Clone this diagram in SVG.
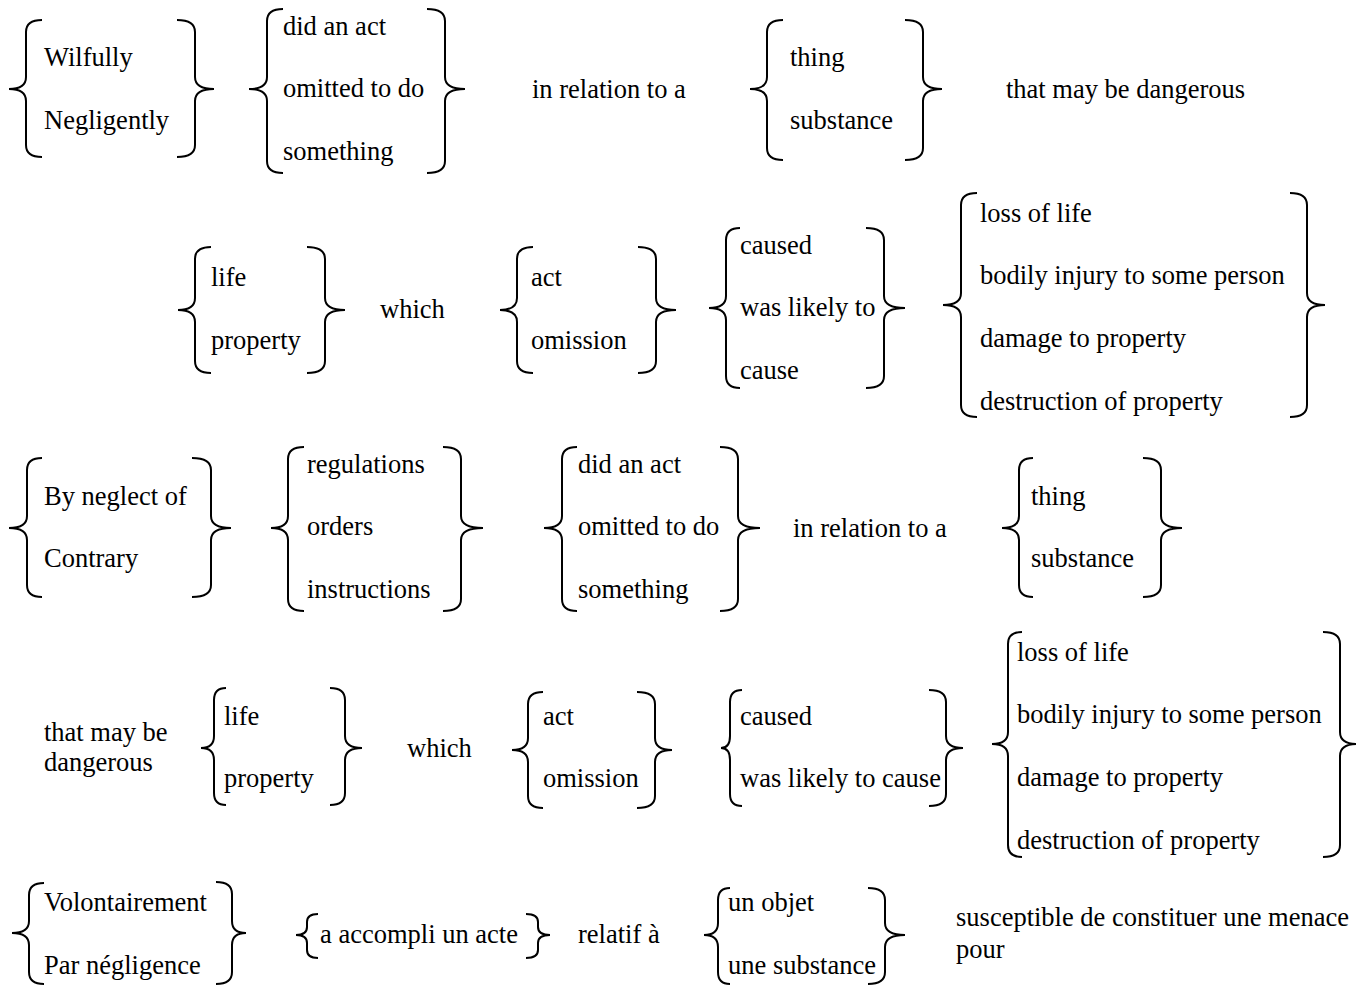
<svg xmlns="http://www.w3.org/2000/svg" width="1356" height="985" viewBox="0 0 1356 985">
<style>
text{font-family:"Liberation Serif","Times New Roman",serif;font-size:26.5px;fill:#000}
.br{fill:none;stroke:#000;stroke-width:2}
</style>
<rect width="1356" height="985" fill="#fff"/>
<g id="connectors">
<!-- Row 1 -->
<path class="br" d="M42 20 Q26 20 26 32 L26 77 Q26 89 9 89 Q26 89 26 101 L26 145 Q26 157 42 157"/>
<path class="br" d="M177 20 Q195 20 195 32 L195 77 Q195 89 214 89 Q195 89 195 101 L195 145 Q195 157 177 157"/>
<path class="br" d="M283 9 Q267 9 267 21 L267 77 Q267 89 249 89 Q267 89 267 101 L267 161 Q267 173 283 173"/>
<path class="br" d="M427 9 Q445 9 445 21 L445 77 Q445 89 465 89 Q445 89 445 101 L445 161 Q445 173 427 173"/>
<path class="br" d="M783 20 Q767 20 767 32 L767 77 Q767 89 750 89 Q767 89 767 101 L767 148 Q767 160 783 160"/>
<path class="br" d="M905 20 Q923 20 923 32 L923 77 Q923 89 942 89 Q923 89 923 101 L923 148 Q923 160 905 160"/>
<!-- Row 2 -->
<path class="br" d="M211 247 Q195 247 195 259 L195 298 Q195 310 178 310 Q195 310 195 322 L195 361 Q195 373 211 373"/>
<path class="br" d="M307 247 Q325 247 325 259 L325 298 Q325 310 345 310 Q325 310 325 322 L325 361 Q325 373 307 373"/>
<path class="br" d="M533 247 Q517 247 517 259 L517 298 Q517 310 500 310 Q517 310 517 322 L517 361 Q517 373 533 373"/>
<path class="br" d="M638 247 Q656 247 656 259 L656 298 Q656 310 676 310 Q656 310 656 322 L656 361 Q656 373 638 373"/>
<path class="br" d="M740 228 Q726 228 726 240 L726 296 Q726 308 709 308 Q726 308 726 320 L726 376 Q726 388 740 388"/>
<path class="br" d="M866 228 Q884 228 884 240 L884 296 Q884 308 905 308 Q884 308 884 320 L884 376 Q884 388 866 388"/>
<path class="br" d="M977 193 Q961 193 961 205 L961 293 Q961 305 943 305 Q961 305 961 317 L961 405 Q961 417 977 417"/>
<path class="br" d="M1290 193 Q1307 193 1307 205 L1307 293 Q1307 305 1325 305 Q1307 305 1307 317 L1307 405 Q1307 417 1290 417"/>
<!-- Row 3 -->
<path class="br" d="M42 458 Q27 458 27 470 L27 516 Q27 528 9 528 Q27 528 27 540 L27 585 Q27 597 42 597"/>
<path class="br" d="M192 458 Q211 458 211 470 L211 516 Q211 528 231 528 Q211 528 211 540 L211 585 Q211 597 192 597"/>
<path class="br" d="M304 447 Q288 447 288 459 L288 516 Q288 528 271 528 Q288 528 288 540 L288 599 Q288 611 304 611"/>
<path class="br" d="M443 447 Q461 447 461 459 L461 516 Q461 528 483 528 Q461 528 461 540 L461 599 Q461 611 443 611"/>
<path class="br" d="M577 447 Q562 447 562 459 L562 516 Q562 528 544 528 Q562 528 562 540 L562 599 Q562 611 577 611"/>
<path class="br" d="M720 447 Q738 447 738 459 L738 516 Q738 528 760 528 Q738 528 738 540 L738 599 Q738 611 720 611"/>
<path class="br" d="M1033 458 Q1019 458 1019 470 L1019 516 Q1019 528 1002 528 Q1019 528 1019 540 L1019 585 Q1019 597 1033 597"/>
<path class="br" d="M1143 458 Q1161 458 1161 470 L1161 516 Q1161 528 1182 528 Q1161 528 1161 540 L1161 585 Q1161 597 1143 597"/>
<!-- Row 4 -->
<path class="br" d="M226 688 Q214 688 214 700 L214 736 Q214 748 201 748 Q214 748 214 760 L214 793 Q214 805 226 805"/>
<path class="br" d="M330 688 Q345 688 345 700 L345 736 Q345 748 362 748 Q345 748 345 760 L345 793 Q345 805 330 805"/>
<path class="br" d="M543 692 Q528 692 528 704 L528 738 Q528 750 512 750 Q528 750 528 762 L528 796 Q528 808 543 808"/>
<path class="br" d="M637 692 Q655 692 655 704 L655 738 Q655 750 672 750 Q655 750 655 762 L655 796 Q655 808 637 808"/>
<path class="br" d="M742 690 Q730 690 730 702 L730 736 Q730 748 721 748 Q730 748 730 760 L730 794 Q730 806 742 806"/>
<path class="br" d="M929 690 Q946 690 946 702 L946 736 Q946 748 963 748 Q946 748 946 760 L946 794 Q946 806 929 806"/>
<path class="br" d="M1022 632 Q1008 632 1008 644 L1008 732 Q1008 744 992 744 Q1008 744 1008 756 L1008 845 Q1008 857 1022 857"/>
<path class="br" d="M1323 632 Q1340 632 1340 644 L1340 732 Q1340 744 1357 744 Q1340 744 1340 756 L1340 845 Q1340 857 1323 857"/>
<!-- Row 5 -->
<path class="br" d="M44 883 Q29 883 29 895 L29 921 Q29 933 12 933 Q29 933 29 945 L29 972 Q29 984 44 984"/>
<path class="br" d="M216 882 Q232 882 232 894 L232 921 Q232 933 246 933 Q232 933 232 945 L232 972 Q232 984 216 984"/>
<path class="br" d="M318 914 Q307 914 307 922 L307 927 Q307 935 296 935 Q307 935 307 943 L307 950 Q307 958 318 958"/>
<path class="br" d="M526 914 Q538 914 538 922 L538 927 Q538 935 550 935 Q538 935 538 943 L538 950 Q538 958 526 958"/>
<path class="br" d="M730 888 Q718 888 718 900 L718 923 Q718 935 704 935 Q718 935 718 947 L718 972 Q718 984 730 984"/>
<path class="br" d="M868 888 Q885 888 885 900 L885 923 Q885 935 905 935 Q885 935 885 947 L885 972 Q885 984 868 984"/>
</g>
<g id="row1">
<g id="n-wilfully"><text x="44" y="66">Wilfully</text><text x="44" y="129">Negligently</text></g>
<g id="n-act1"><text x="283" y="35">did an act</text><text x="283" y="97">omitted to do</text><text x="283" y="160">something</text></g>
<g id="n-rel1"><text x="532" y="98">in relation to a</text></g>
<g id="n-thing1"><text x="790" y="66">thing</text><text x="790" y="129">substance</text></g>
<g id="n-danger1"><text x="1006" y="98">that may be dangerous</text></g>
</g>
<g id="row2">
<g id="n-life1"><text x="211" y="286">life</text><text x="211" y="349">property</text></g>
<g id="n-which1"><text x="380" y="318">which</text></g>
<g id="n-actom1"><text x="531" y="286">act</text><text x="531" y="349">omission</text></g>
<g id="n-caused1"><text x="740" y="254">caused</text><text x="740" y="316">was likely to</text><text x="740" y="379">cause</text></g>
<g id="n-loss1"><text x="980" y="222">loss of life</text><text x="980" y="284">bodily injury to some person</text><text x="980" y="347">damage to property</text><text x="980" y="410">destruction of property</text></g>
</g>
<g id="row3">
<g id="n-neglect"><text x="44" y="505">By neglect of</text><text x="44" y="567">Contrary</text></g>
<g id="n-regs"><text x="307" y="473">regulations</text><text x="307" y="535">orders</text><text x="307" y="598">instructions</text></g>
<g id="n-act2"><text x="578" y="473">did an act</text><text x="578" y="535">omitted to do</text><text x="578" y="598">something</text></g>
<g id="n-rel2"><text x="793" y="537">in relation to a</text></g>
<g id="n-thing2"><text x="1031" y="505">thing</text><text x="1031" y="567">substance</text></g>
</g>
<g id="row4">
<g id="n-danger2"><text x="44" y="741">that may be</text><text x="44" y="771">dangerous</text></g>
<g id="n-life2"><text x="224" y="725">life</text><text x="224" y="787">property</text></g>
<g id="n-which2"><text x="407" y="757">which</text></g>
<g id="n-actom2"><text x="543" y="725">act</text><text x="543" y="787">omission</text></g>
<g id="n-caused2"><text x="740" y="725">caused</text><text x="740" y="787">was likely to cause</text></g>
<g id="n-loss2"><text x="1017" y="661">loss of life</text><text x="1017" y="723">bodily injury to some person</text><text x="1017" y="786">damage to property</text><text x="1017" y="849">destruction of property</text></g>
</g>
<g id="row5">
<g id="n-volont"><text x="44" y="911">Volontairement</text><text x="44" y="974">Par négligence</text></g>
<g id="n-accompli"><text x="320" y="943">a accompli un acte</text></g>
<g id="n-relatif"><text x="578" y="943">relatif à</text></g>
<g id="n-objet"><text x="728" y="911">un objet</text><text x="728" y="974">une substance</text></g>
<g id="n-suscept"><text x="956" y="926">susceptible de constituer une menace</text><text x="956" y="958">pour</text></g>
</g>
</svg>
